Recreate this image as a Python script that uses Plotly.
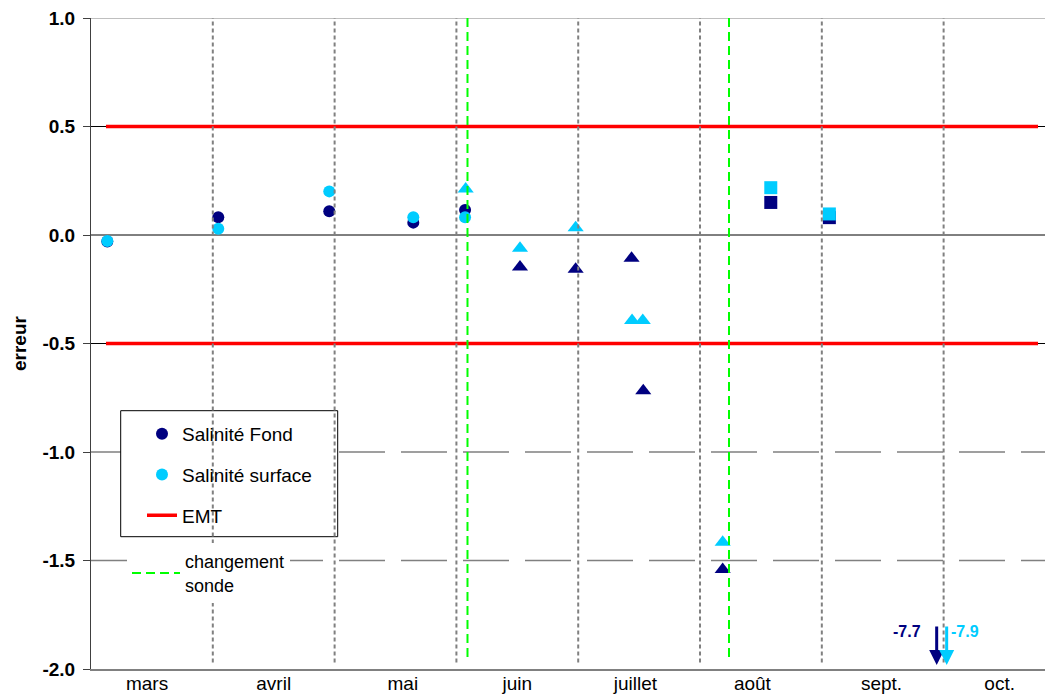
import plotly.graph_objects as go

# ---------------- data ----------------
months = ["mars", "avril", "mai", "juin", "juillet", "août", "sept.", "oct."]
month_label_pos = [0.46, 1.50, 2.56, 3.50, 4.47, 5.43, 6.49, 7.46]
month_bounds = [1, 2, 3, 4, 5, 6, 7]

y_tick_vals = [1.0, 0.5, 0.0, -0.5, -1.0, -1.5, -2.0]
y_tick_text = ["1.0", "0.5", "0.0", "-0.5", "-1.0", "-1.5", "-2.0"]

fond_circle_x = [0.134, 1.045, 1.956, 2.646, 3.071]
fond_circle_y = [-0.03, 0.082, 0.109, 0.057, 0.115]
surf_circle_x = [0.134, 1.045, 1.956, 2.646, 3.071]
surf_circle_y = [-0.028, 0.029, 0.201, 0.082, 0.082]

fond_tri_x = [3.522, 3.979, 4.438, 4.534, 5.186]
fond_tri_y = [-0.147, -0.158, -0.107, -0.718, -1.542]
surf_tri_x = [3.076, 3.522, 3.979, 4.442, 4.530, 5.186]
surf_tri_y = [0.212, -0.061, 0.033, -0.394, -0.394, -1.416]

fond_sq_x = [5.581, 6.062]
fond_sq_y = [0.150, 0.080]
surf_sq_x = [5.581, 6.062]
surf_sq_y = [0.218, 0.097]

emt_limits = [0.5, -0.5]
emt_x = [0.123, 7.775]

probe_change_x = [3.091, 5.238]

offscale_x = [6.943, 7.025]
offscale_values = [-7.7, -7.9]

grid_solid = [(0.5, "#000000"), (0.0, "#000000"), (-0.5, "#000000"), (1.0, "#808080")]
grid_dashed = [-1.0, -1.5]

# ---------------- styles ----------------
NAVY = "#000080"
SKY = "#00CCFF"
RED = "#FF0000"
GREEN = "#00FF00"
GREY = "#808080"
FONT = "Arial"

X_MAX = 7.898
Y_MIN, Y_MAX = -2.0, 1.0

# page offset (body margin) compensation
OFF = 8
L, T = 91 - OFF, 18 - OFF
W, H = 962, 651
FIG_W, FIG_H = 1053, 695


def px2paper_x(p):  # p: window pixel
    return (p - OFF - L) / W


def px2paper_y(p):
    return (T + H - (p - OFF)) / H


fig = go.Figure()

fig.add_trace(go.Scatter(x=fond_circle_x, y=fond_circle_y, mode="markers", name="Salinité Fond",
                         marker=dict(symbol="circle", size=12, color=NAVY), legendgroup="g1"))
fig.add_trace(go.Scatter(x=surf_circle_x, y=surf_circle_y, mode="markers", name="Salinité surface",
                         marker=dict(symbol="circle", size=12, color=SKY), legendgroup="g2"))

ex, ey = [], []
for lim in emt_limits:
    ex += [emt_x[0], emt_x[1], None]
    ey += [lim, lim, None]
fig.add_trace(go.Scatter(x=ex, y=ey, mode="lines", name="EMT", line=dict(color=RED, width=3.5),
                         legendgroup="g3"))

fig.add_trace(go.Scatter(x=fond_tri_x, y=fond_tri_y, mode="markers", showlegend=False,
                         marker=dict(symbol="triangle-up", size=14, color=NAVY)))
fig.add_trace(go.Scatter(x=surf_tri_x, y=surf_tri_y, mode="markers", showlegend=False,
                         marker=dict(symbol="triangle-up", size=14, color=SKY)))
fig.add_trace(go.Scatter(x=fond_sq_x, y=fond_sq_y, mode="markers", showlegend=False,
                         marker=dict(symbol="square", size=13, color=NAVY)))
fig.add_trace(go.Scatter(x=surf_sq_x, y=surf_sq_y, mode="markers", showlegend=False,
                         marker=dict(symbol="square", size=13, color=SKY)))

gx, gy = [], []
for px in probe_change_x:
    gx += [px, px, None]
    gy += [Y_MAX, -1.95, None]
fig.add_trace(go.Scatter(x=gx, y=gy, mode="lines", name="changement<br>sonde",
                         line=dict(color=GREEN, width=2, dash="9px,5px"), legend="legend2"))

shapes = []
for yv, col in grid_solid:
    shapes.append(dict(type="line", xref="paper", x0=0, x1=1, yref="y", y0=yv, y1=yv,
                       line=dict(color=col, width=1), layer="below"))
for yv in grid_dashed:
    shapes.append(dict(type="line", xref="paper", x0=0, x1=1, yref="y", y0=yv, y1=yv,
                       line=dict(color=GREY, width=1.5, dash="46px,16px"), layer="below"))
# legend frame
shapes.append(dict(type="rect", xref="paper", yref="paper",
                   x0=px2paper_x(120.7), x1=px2paper_x(337.7),
                   y0=px2paper_y(536.7), y1=px2paper_y(410.7),
                   fillcolor="white", line=dict(color="black", width=1), layer="below"))
for mb in month_bounds:
    shapes.append(dict(type="line", xref="x", x0=mb, x1=mb, yref="y", y0=-1.97, y1=Y_MAX,
                       line=dict(color=GREY, width=2, dash="4px,3px"), layer="above"))

annotations = []
off_colors = [NAVY, SKY]
label_dx = [-0.245, 0.15]
for xv, val, col, dx in zip(offscale_x, offscale_values, off_colors, label_dx):
    annotations.append(dict(x=xv, y=-1.982, ax=xv, ay=-1.797, xref="x", yref="y",
                            axref="x", ayref="y", showarrow=True, arrowhead=2, arrowsize=1,
                            arrowwidth=3, arrowcolor=col, text=""))
    annotations.append(dict(x=xv + dx, y=-1.825, xref="x", yref="y", showarrow=False,
                            text=f"{val:.1f}", font=dict(family=FONT, size=16, color=col, weight="bold")))
annotations.append(dict(x=px2paper_x(19.5), y=0.5, xref="paper", yref="paper", showarrow=False,
                        xanchor="center", yanchor="middle",
                        text="erreur", textangle=-90,
                        font=dict(family=FONT, size=19, color="black", weight="bold")))

fig.update_layout(
    width=FIG_W, height=FIG_H,
    margin=dict(l=L, r=FIG_W - L - W, t=T, b=FIG_H - T - H),
    plot_bgcolor="white", paper_bgcolor="white",
    shapes=shapes, annotations=annotations,
    showlegend=True,
    legend=dict(x=px2paper_x(142), xanchor="left", y=px2paper_y(415), yanchor="top",
                bgcolor="rgba(0,0,0,0)", borderwidth=0,
                font=dict(family=FONT, size=19, color="black"),
                traceorder="grouped", tracegroupgap=13, itemwidth=30),
    legend2=dict(x=px2paper_x(127), xanchor="left", y=px2paper_y(543), yanchor="top",
                 bgcolor="white", borderwidth=0, itemwidth=48,
                 font=dict(family=FONT, size=18, color="black")),
    xaxis=dict(range=[0, X_MAX], tickvals=month_label_pos, ticktext=months, ticks="",
               showline=True, linecolor=GREY, linewidth=1.5, showgrid=False, zeroline=False,
               tickfont=dict(family=FONT, size=19, color="black"), automargin=False,
               ticklabelstandoff=-4, ticklabeloverflow="allow"),
    yaxis=dict(range=[Y_MIN, Y_MAX], tickvals=y_tick_vals, ticktext=y_tick_text,
               ticks="outside", ticklen=7, tickcolor="#404040", tickwidth=1,
               showline=True, linecolor="#404040", linewidth=1, showgrid=False, zeroline=False,
               tickfont=dict(family=FONT, size=19, color="black", weight="bold"),
               ticklabelstandoff=4, automargin=False, ticklabeloverflow="allow"),
)

fig.write_html("out.html")
